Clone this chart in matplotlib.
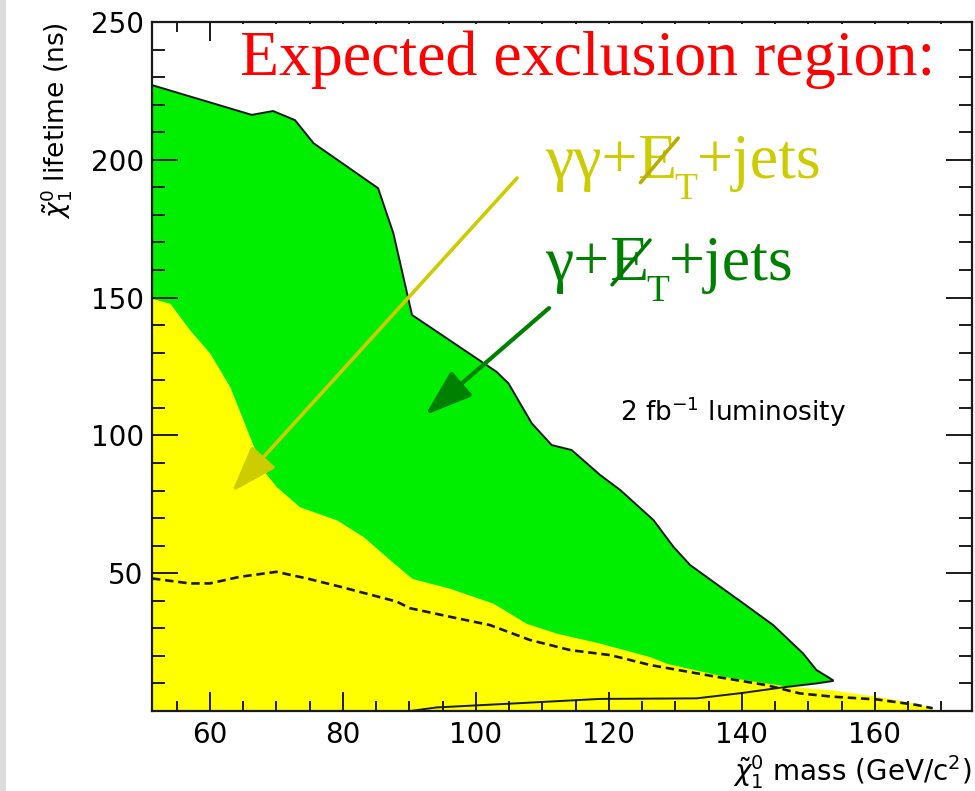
import matplotlib
matplotlib.use("Agg")
import matplotlib.pyplot as plt
import numpy as np
from matplotlib.patches import Rectangle

# -------------
# Data
# x: neutralino mass (GeV/c^2), y: neutralino lifetime (ns)
# -------------
# gamma + MET + jets region (green), upper edge then lower edge back to the left
green_top_x = [51.3, 66.3, 69.5, 72.8, 75.6, 85.3, 87.6, 90.4, 103.1, 104.9, 108.4, 111.4,
               114.4, 118.7, 121.7, 126.7, 129.7, 132.2, 135.7, 140.2, 144.7, 149.2, 151.2, 153.7]
green_top_y = [227.1, 216.3, 217.7, 214.4, 206.0, 189.7, 173.3, 143.7, 123.1, 118.9, 104.4, 96.5,
               94.7, 85.6, 80.2, 69.3, 59.6, 53.0, 46.9, 39.1, 31.2, 20.9, 14.9, 11.2]
green_low_x = [153.7, 151.2, 146.2, 140.2, 133.2, 118.7, 106.1, 94.1, 90.1, 51.3]
green_low_y = [10.9, 10.0, 8.6, 6.6, 4.6, 4.4, 2.8, 1.3, 0.0, 0.0]

# gamma gamma + MET + jets region (yellow)
yellow_x = [51.3, 54.0, 57.0, 60.0, 63.0, 66.0, 68.0, 70.0, 73.5, 79.1, 83.1, 87.1, 90.4,
            96.1, 102.6, 107.6, 112.2, 118.7, 126.2, 128.7, 137.7, 146.7, 153.7, 160.8, 166.8, 169.0]
yellow_y = [149.7, 147.9, 138.2, 129.8, 117.7, 99.5, 87.4, 81.4, 74.1, 69.3, 63.2, 54.8, 48.1,
            44.5, 39.1, 31.8, 28.2, 24.6, 19.7, 17.3, 12.4, 9.1, 7.6, 5.1, 2.5, 0.0]

# dashed curve
dash_x = [51.3, 57.0, 60.0, 64.5, 70.0, 74.6, 79.6, 88.1, 90.1, 96.1, 102.1, 108.1, 114.2,
          120.2, 126.2, 136.2, 143.7, 148.7, 153.7, 160.3, 166.3, 168.7]
dash_y = [48.1, 46.3, 46.3, 48.7, 50.5, 48.1, 45.1, 39.7, 37.3, 34.2, 31.2, 25.8, 22.1,
          20.3, 16.7, 12.4, 9.4, 6.4, 5.2, 4.2, 2.2, 1.0]

x_major = [60, 80, 100, 120, 140, 160]
y_major = [50, 100, 150, 200, 250]

GREEN_FILL = "#00ee00"
YELLOW_FILL = "#ffff00"
YELLOW_TXT = "#cccc00"
GREEN_TXT = "#008000"
SERIF = "Liberation Serif"

plt.rcParams["font.family"] = ["DejaVu Sans"]
plt.rcParams["mathtext.fontset"] = "dejavusans"

# -------------
# Drawing
# -------------
fig = plt.figure(figsize=(9.75, 7.91), dpi=100)
fig.add_artist(Rectangle((0, 0), 6 / 975, 1, transform=fig.transFigure,
                         facecolor="#dcdcdc", edgecolor="none", zorder=0))
ax = fig.add_axes([0.1559, 0.1011, 0.841, 0.8711])
ax.set_axisbelow(False)

gx = np.r_[green_top_x, green_low_x]
gy = np.r_[green_top_y, green_low_y]
ax.fill(gx, gy, color=GREEN_FILL, lw=0, zorder=1)
ax.fill_between(yellow_x, 0, yellow_y, color=YELLOW_FILL, lw=0, zorder=1.5)
ax.plot(gx[:-1], gy[:-1], color="#1a1a1a", lw=1.4, zorder=2)
ax.plot(dash_x, dash_y, color="#1a1a1a", lw=1.9, dashes=(3.2, 1.8), zorder=2)

ax.set_xlim(51.3, 174.6)
ax.set_ylim(0, 250)
ax.set_xticks(x_major)
ax.set_xticks(np.arange(55, 175, 5), minor=True)
ax.set_yticks(y_major)
ax.set_yticks(np.arange(10, 250, 10), minor=True)
ax.tick_params(which="both", direction="in", top=True, right=True, width=1.4,
               labelsize=20, color="#1a1a1a")
ax.tick_params(axis="x", which="major", length=13.5, pad=7)
ax.tick_params(axis="x", which="minor", length=7)
ax.tick_params(axis="y", which="major", length=18.5, pad=6)
ax.tick_params(axis="y", which="minor", length=9.5)
for s in ax.spines.values():
    s.set_linewidth(1.6)
    s.set_color("#1a1a1a")

ax.set_xlabel(r"$\tilde{\chi}^{0}_{1}$ mass (GeV/c$^{2}$)", fontsize=20, loc="right", labelpad=3)
ax.set_ylabel(r"$\tilde{\chi}^{0}_{1}$ lifetime (ns)", fontsize=19, loc="top")
ax.yaxis.set_label_coords(-0.095, 1.0)

ax.text(0.571, 0.434, r"2 fb$^{-1}$ luminosity", transform=ax.transAxes,
        fontsize=19, va="center", ha="left")

# arrows
ax.annotate("", xy=(63.3, 79.5), xytext=(106.2, 193.4),
            arrowprops=dict(arrowstyle="-|>,head_length=2.9,head_width=1.0",
                            color=YELLOW_TXT, lw=2.6, shrinkA=0, shrinkB=0), zorder=3)
ax.annotate("", xy=(92.4, 107.4), xytext=(111.0, 146.2),
            arrowprops=dict(arrowstyle="-|>,head_length=2.9,head_width=1.0",
                            color=GREEN_TXT, lw=3.0, shrinkA=0, shrinkB=0), zorder=3)


def met_label(x, y, prefix, color, slash):
    # prefix + slashed E_T + "+jets", pieces chained so the slash lands on the E
    t1 = ax.text(x, y, prefix, transform=ax.transAxes, fontsize=46, family=SERIF,
                 color=color, va="baseline", ha="left", zorder=4)
    tE = ax.annotate("E", xy=(1, 0), xycoords=t1, va="bottom", ha="left",
                     fontsize=46, family=SERIF, color=color, zorder=4)
    tT = ax.annotate("T", xy=(0.95, 0), xycoords=tE, xytext=(0, -11), textcoords="offset points",
                     va="bottom", ha="left", fontsize=27, family=SERIF, color=color, zorder=4)
    ax.annotate("+jets", xy=(1, 0), xycoords=(tT, tE), va="bottom", ha="left",
                fontsize=46, family=SERIF, color=color, zorder=4)
    ax.annotate("", xy=(1.05, 0.93), xycoords=tE, xytext=(0.08, 0.16), textcoords=tE,
                arrowprops=dict(arrowstyle="-", color=slash, lw=2.6, shrinkA=0, shrinkB=0),
                zorder=5)


met_label(0.479, 0.7736, "γγ+", YELLOW_TXT, "#b8ae00")
met_label(0.479, 0.6255, "γ+", GREEN_TXT, "#007800")

fig.text(240 / 975, 1 - 75 / 791, "Expected exclusion region: ", fontsize=46, family=SERIF,
         color="red", va="baseline", ha="left",
         bbox=dict(facecolor="white", edgecolor="none", boxstyle="square,pad=0.1"))

fig.savefig("out.png", dpi=100)
